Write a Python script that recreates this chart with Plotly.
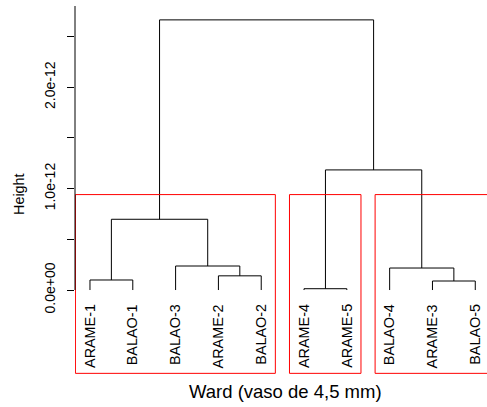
import plotly.graph_objects as go

# ---- data ----
labels = ["ARAME-1", "BALAO-1", "BALAO-3", "ARAME-2", "BALAO-2",
          "ARAME-4", "ARAME-5", "BALAO-4", "ARAME-3", "BALAO-5"]
# merges (R hclust convention): negative = leaf position (1-based), positive = earlier merge
merge_left = [-1, -4, -3, 1, -6, -9, -8, 5, 4]
merge_right = [-2, -5, 2, 3, -7, -10, 6, 7, 8]
merge_height = [0.099e-12, 0.14e-12, 0.237e-12, 0.698e-12, 0.013e-12,
                0.089e-12, 0.217e-12, 1.185e-12, 2.665e-12]
k_clusters = 3
y_ticks = [0, 0.5e-12, 1.0e-12, 1.5e-12, 2.0e-12, 2.5e-12]
y_ticktext = ["0.0e+00", "", "1.0e-12", "", "2.0e-12", ""]
x_title = "Ward (vaso de 4,5 mm)"
y_title = "Height"

# ---- layout constants ----
W, H = 487, 407
ML, MT, MB, MR = 75, 6, 30, 0
Y_TOP, Y_BOT = 2.802e-12, -0.858e-12
X_LEFT = 0.65
X_RIGHT = X_LEFT + (W - ML - MR) / 42.81
RECT_BOTTOM = -0.822e-12
LABEL_Y = -0.118e-12
FONT = "Liberation Sans, Arial, sans-serif"

# ---- build dendrogram geometry ----
node_x, node_h, node_members = {}, {}, {}
def info(n):
    if n < 0:
        return float(-n), 0.0, [-n]
    return node_x[n], node_h[n], node_members[n]

lx, ly = [], []
for i, (a, b, h) in enumerate(zip(merge_left, merge_right, merge_height), start=1):
    xa, ha, ma = info(a)
    xb, hb, mb = info(b)
    lx += [xa, xa, xb, xb, None]
    ly += [ha, h, h, hb, None]
    node_x[i] = (xa + xb) / 2
    node_h[i] = h
    node_members[i] = ma + mb

# clusters for k groups
sorted_h = sorted(merge_height, reverse=True)
cut_h = (sorted_h[k_clusters - 2] + sorted_h[k_clusters - 1]) / 2
clusters = []
def collect(n):
    xn, hn, mn = info(n)
    if n < 0 or hn < cut_h:
        clusters.append(mn)
        return
    collect(merge_left[n - 1])
    collect(merge_right[n - 1])
collect(len(merge_height))

fig = go.Figure()
fig.add_trace(go.Scatter(x=lx, y=ly, mode="lines",
                         line=dict(color="black", width=1),
                         hoverinfo="skip", showlegend=False))

shapes = []
for mem in clusters:
    x0 = min(mem) - 0.34
    x1 = max(mem) + 0.33
    shapes.append(dict(type="rect", xref="x", yref="y", x0=x0, x1=x1,
                       y0=RECT_BOTTOM, y1=cut_h,
                       line=dict(color="#ff0000", width=1)))
# y axis line (from zero up to the top of the plot region)
shapes.append(dict(type="line", xref="paper", yref="y", x0=0, x1=0,
                   y0=0, y1=Y_TOP, line=dict(color="black", width=1)))

annotations = []
for i, lab in enumerate(labels, start=1):
    annotations.append(dict(x=i, y=LABEL_Y, xref="x", yref="y", text=lab,
                            showarrow=False, textangle=-90,
                            xanchor="center", yanchor="top",
                            font=dict(family=FONT, size=14.4, color="black")))
annotations.append(dict(x=(285.5 - ML) / (W - ML - MR), y=(H - MB - 391) / (H - MT - MB),
                        xref="paper", yref="paper", text=x_title, showarrow=False,
                        xanchor="center", yanchor="middle",
                        font=dict(family=FONT, size=18.5, color="black")))
annotations.append(dict(x=(19 - ML) / (W - ML - MR), y=(H - MB - 194) / (H - MT - MB),
                        xref="paper", yref="paper", text=y_title, showarrow=False,
                        textangle=-90, xanchor="center", yanchor="middle",
                        font=dict(family=FONT, size=14.4, color="black")))

fig.update_layout(
    width=W, height=H,
    margin=dict(l=ML, r=MR, t=MT, b=MB),
    paper_bgcolor="white", plot_bgcolor="white",
    shapes=shapes, annotations=annotations,
    xaxis=dict(range=[X_LEFT, X_RIGHT], visible=False, showgrid=False, zeroline=False),
    yaxis=dict(range=[Y_BOT, Y_TOP], showgrid=False, zeroline=False, showline=False,
               tickmode="array", tickvals=y_ticks, ticktext=y_ticktext,
               ticks="outside", ticklen=7, tickcolor="black", tickwidth=1,
               tickangle=-90, ticklabelstandoff=6,
               tickfont=dict(family=FONT, size=14, color="black")),
)

fig.write_html("out.html")
